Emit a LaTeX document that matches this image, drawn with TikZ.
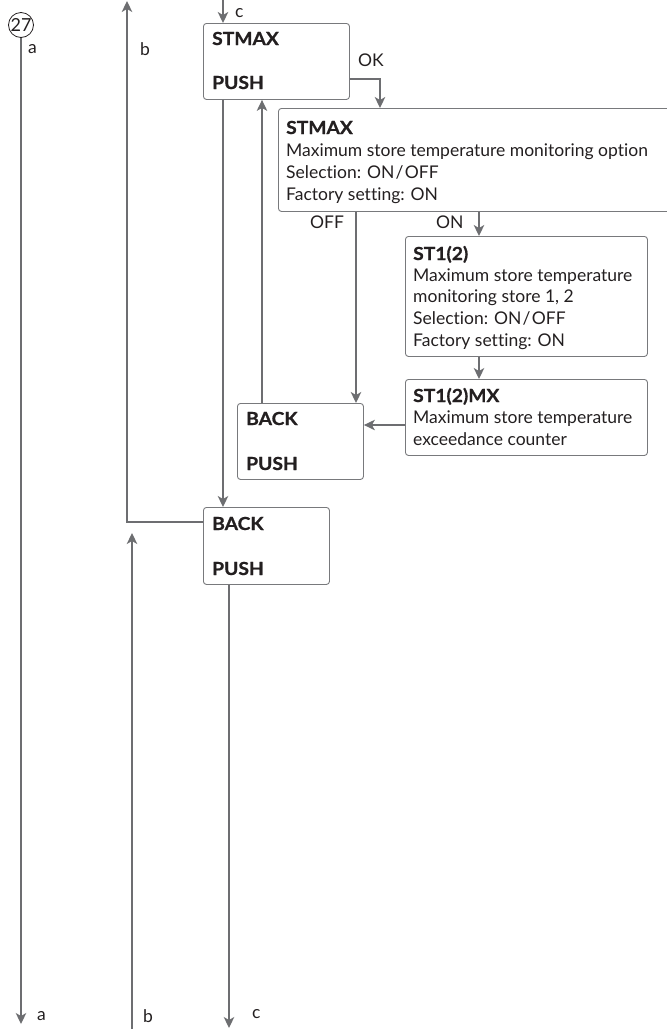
\documentclass[tikz,border=0pt]{standalone}
\usepackage{fontspec}
\setmainfont{Lato}[Ligatures=NoCommon, BoldFeatures={FakeStretch=1.07,FakeBold=0.8}]
\usetikzlibrary{arrows.meta,calc}
\definecolor{linegray}{RGB}{109,110,113}
\definecolor{boxgray}{RGB}{120,121,124}
\definecolor{textblack}{RGB}{35,31,32}
\newcommand{\myslash}{\kern1.2pt/\kern1.2pt}
\tikzset{
  conn/.style={draw=linegray, line width=1.3pt},
  arr/.style={conn, -{Stealth[length=11pt,width=10.5pt,inset=3pt]}},
  box/.style={draw=boxgray, line width=0.9pt, rounded corners=3pt, inner sep=0pt, anchor=north west},
  txt/.style={anchor=base west, inner sep=0pt, text=textblack, font=\fontsize{17.5}{20}\selectfont},
  btxt/.style={txt, font=\fontsize{18}{20}\selectfont\bfseries},
  lbl/.style={anchor=base west, inner sep=0pt, text=textblack, font=\fontsize{17.5}{20}\selectfont},
}
\begin{document}
\begin{tikzpicture}[x=1pt,y=-1pt]
\useasboundingbox (0,0) rectangle (667,1029);
\clip (0,0) rectangle (667,1029);

% page number circle
\node[draw=textblack, line width=0.8pt, circle, minimum size=25pt, inner sep=0pt,
      text=textblack, font=\fontsize{18}{20}\selectfont] (circ) at (21,25) {27};

% boxes
\node[box, minimum width=146pt, minimum height=76pt] (b1) at (203,23) {};
\node[box, minimum width=420pt, minimum height=103pt] (b2) at (278,108) {};
\node[box, minimum width=242pt, minimum height=120pt] (b3) at (405,236) {};
\node[box, minimum width=242pt, minimum height=76pt] (b4) at (405,379) {};
\node[box, minimum width=126pt, minimum height=76pt] (back1) at (237,403) {};
\node[box, minimum width=126pt, minimum height=77pt] (back2) at (203,507) {};

% box texts
\node[btxt] (b1a) at (212,45) {STMAX};
\node[btxt] (b1b) at (212,89) {PUSH};

\node[btxt] (b2a) at (286,134) {STMAX};
\node[txt] (b2b) at (286,156) {Maximum store temperature monitoring option};
\node[txt] (b2c) at (286,178) {Selection: ON\myslash OFF};
\node[txt] (b2d) at (286,200) {Factory setting: ON};

\node[btxt] (b3a) at (413,260) {ST1(2)};
\node[txt] (b3b) at (413,281) {Maximum store temperature};
\node[txt] (b3c) at (413,302) {monitoring store 1, 2};
\node[txt] (b3d) at (413,324) {Selection: ON\myslash OFF};
\node[txt] (b3e) at (413,346) {Factory setting: ON};

\node[btxt] (b4a) at (413,402) {ST1(2)MX};
\node[txt] (b4b) at (413,423) {Maximum store temperature};
\node[txt] (b4c) at (413,445) {exceedance counter};

\node[btxt] (k1a) at (246,425) {BACK};
\node[btxt] (k1b) at (246,470) {PUSH};

\node[btxt] (k2a) at (212,530) {BACK};
\node[btxt] (k2b) at (212,575) {PUSH};

% free ends
\coordinate (aEnd) at (21,1024);
\coordinate (bTop) at (127,1);
\coordinate (bBot) at (132,1035);
\coordinate (bTip) at (132,533);
\coordinate (cTop) at (223,-5);
\coordinate (cEnd) at (229,1028);

% labels
\node[lbl] (la1) at (28,53) {a};
\node[lbl] (lb1) at (140,55) {b};
\node[lbl] (lc1) at (235,17) {c};
\node[lbl] (la2) at (37,1020) {a};
\node[lbl] (lb2) at (143,1022) {b};
\node[lbl] (lc2) at (252,1018) {c};
\node[lbl] (lok) at (358,66) {OK};
\node[lbl] (loff) at (310,228) {OFF};
\node[lbl] (lon) at (436,228) {ON};

% connectors
\draw[arr] (circ.south) -- (aEnd);
\draw[arr] (back2.west |- 0,522) -- (127,522) -- (bTop);
\draw[arr] (bBot) -- (bTip);
\draw[arr] (cTop) -- (cTop |- b1.north);
\draw[arr] (cEnd |- back2.south) -- (cEnd);

\draw[arr] (b1.east |- 0,79) -| (380,0 |- b2.north);
\draw[arr] (356,0 |- b2.south) -- (356,0 |- back1.north);
\draw[arr] (479,0 |- b2.south) -- (479,0 |- b3.north);
\draw[arr] (479,0 |- b3.south) -- (479,0 |- b4.north);
\draw[arr] (b4.west |- 0,425) -- (back1.east |- 0,425);
\draw[arr] (262,0 |- back1.north) -- (262,0 |- b1.south);
\draw[arr] (223,0 |- b1.south) -- (223,0 |- back2.north);
\end{tikzpicture}
\end{document}
